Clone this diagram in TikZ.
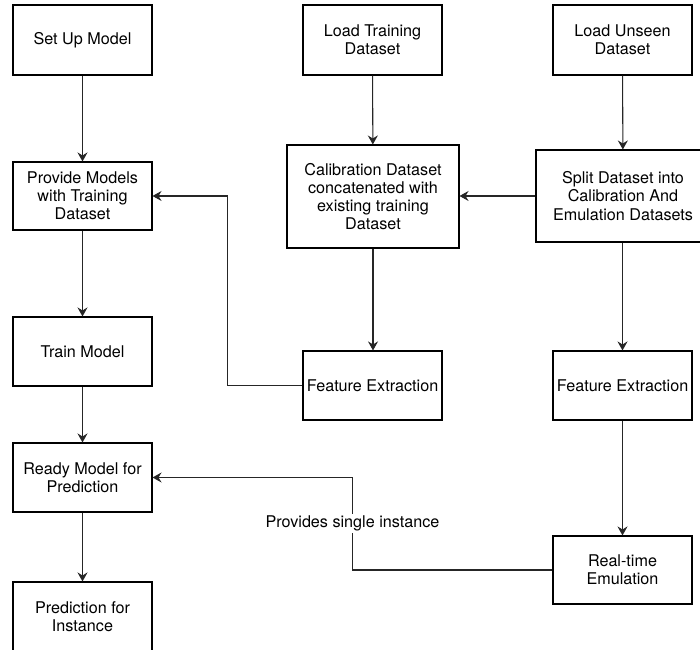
\documentclass[tikz,border=0pt]{standalone}
\usepackage{fontspec}
\setmainfont{TeX Gyre Heros}
\usetikzlibrary{arrows.meta}

\begin{document}
\begin{tikzpicture}[
	box/.style={draw,line width=0.6pt,minimum width=2.78cm,minimum height=1.4cm,align=center,inner sep=1pt,font=\fontsize{9.2}{10.3}\selectfont},
	flow/.style={-{Stealth[length=1.8mm,width=2mm,inset=0.6mm]},line width=0.6pt,draw=black!85}
	]
	\useasboundingbox (0,0) rectangle (14,13);
	\clip (0,0) rectangle (14,13);
	\node[box] (setup) at (1.65,12.2) {Set Up Model};
	\node[box,minimum height=1.36cm] (provide) at (1.65,9.08) {Provide Models\\with Training\\Dataset};
	\node[box,minimum height=1.38cm] (train) at (1.65,5.97) {Train Model};
	\node[box,minimum height=1.38cm] (ready) at (1.65,3.45) {Ready Model for\\Prediction};
	\node[box] (predict) at (1.65,0.66) {Prediction for\\Instance};
	\node[box] (loadtrain) at (7.45,12.2) {Load Training\\Dataset};
	\node[box,minimum width=3.44cm,minimum height=2.06cm] (calib) at (7.46,9.07) {Calibration Dataset\\concatenated with\\existing training\\Dataset};
	\node[box,minimum height=1.38cm] (featA) at (7.45,5.29) {Feature Extraction};
	\node[box] (loadunseen) at (12.45,12.2) {Load Unseen\\Dataset};
	\node[box,minimum width=3.48cm,minimum height=1.84cm] (split) at (12.46,9.08) {Split Dataset into\\Calibration And\\Emulation Datasets};
	\node[box,minimum height=1.38cm] (featB) at (12.45,5.29) {Feature Extraction};
	\node[box,minimum height=1.36cm] (realtime) at (12.45,1.6) {Real-time\\Emulation};
	\draw[flow] (setup) -- (provide);
	\draw[flow] (provide) -- (train);
	\draw[flow] (train) -- (ready);
	\draw[flow] (ready) -- (predict);
	\draw[flow] (loadtrain) -- (calib);
	\draw[flow] (calib.south) -- (calib.south |- featA.north);
	\draw[flow] (loadunseen) -- (split);
	\draw[flow] (split.west) -- (calib.east |- split.west);
	\draw[flow] (split.south -| featB.north) -- (featB.north);
	\draw[flow] (featB) -- (realtime);
	\draw[flow] (featA.west) -- ++(-1.5,0) |- (provide.east);
	\draw[flow] (realtime.west) -- ++(-4,0) |- node[pos=0.25,fill=white,inner sep=1pt,font=\fontsize{9.2}{10.3}\selectfont] {Provides single instance} (ready.east);
\end{tikzpicture}
\end{document}
